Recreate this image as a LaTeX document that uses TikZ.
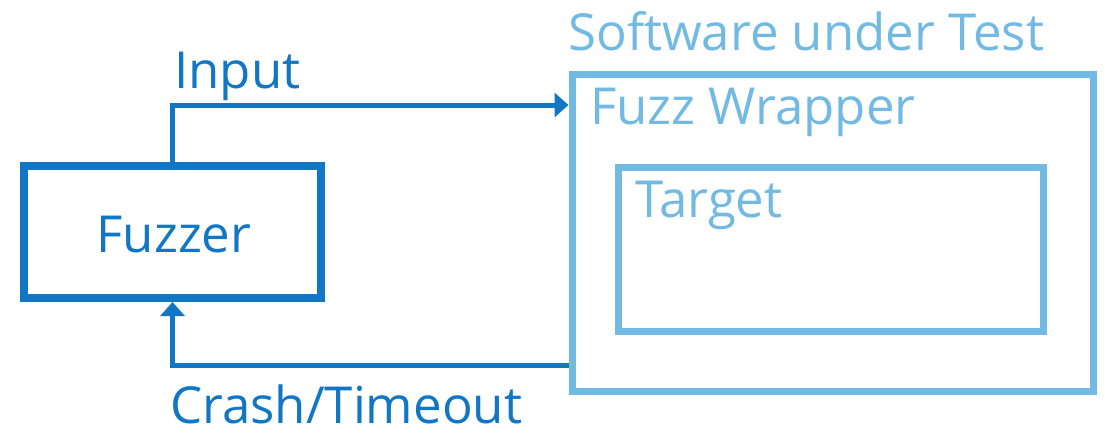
\documentclass[tikz,border=0pt]{standalone}
\usepackage{fontspec}
\setmainfont{Open Sans}
\usetikzlibrary{arrows.meta}
\definecolor{fzdark}{RGB}{17,119,197}
\definecolor{fzlight}{RGB}{114,185,227}
\begin{document}
\begin{tikzpicture}[x=1pt,y=-1pt,
  lbl/.style={inner sep=0pt,anchor=base west,font=\fontsize{51}{61}\selectfont},
  box/.style={draw,inner sep=0pt,outer sep=0.5\pgflinewidth},
  link/.style={draw=fzdark,line width=5pt,-{Triangle[width=24pt,length=14pt]}}]
\useasboundingbox (0,0) rectangle (1105,434);
% blocks
\node[box,draw=fzdark,line width=8pt,minimum width=297pt,minimum height=132pt] (fuzzer) at (172.5,232) {};
\node[box,draw=fzlight,line width=7pt,minimum width=521pt,minimum height=317pt] (sut) at (832.5,232.5) {};
\node[box,draw=fzlight,line width=7pt,minimum width=425pt,minimum height=164pt] (target) at (830.5,249) {};
% labels
\node[lbl,text=fzdark,anchor=base] (fuzzertxt) at (174,252) {Fuzzer};
\node[lbl,text=fzlight] (suttxt) at (568,50) {Software under Test};
\node[lbl,text=fzlight] (wraptxt) at (590,124) {Fuzz Wrapper};
\node[lbl,text=fzlight] (targettxt) at (635,217) {Target};
\node[lbl,text=fzdark] (inputtxt) at (174,88) {Input};
\node[lbl,text=fzdark] (crashtxt) at (170,423) {Crash/Timeout};
% connectors
\coordinate (inlevel) at (0,105);
\coordinate (crlevel) at (0,365);
\draw[link] (fuzzer.north) |- (sut.west |- inlevel);
\draw[link] (sut.west |- crlevel) -| (fuzzer.south);
\end{tikzpicture}
\end{document}
